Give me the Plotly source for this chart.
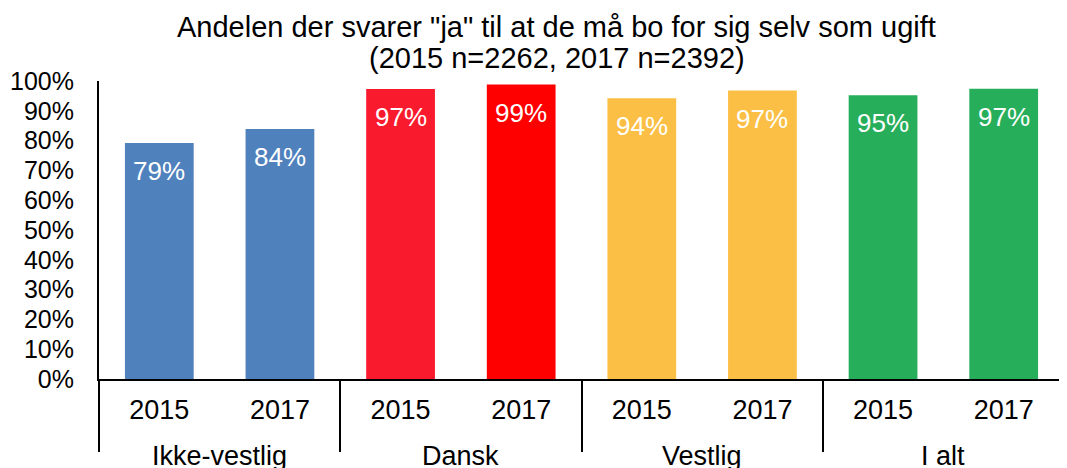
import plotly.graph_objects as go

# Data
grupper = ['Ikke-vestlig', 'Ikke-vestlig', 'Dansk', 'Dansk', 'Vestlig', 'Vestlig', 'I alt', 'I alt']
aar = ['2015', '2017', '2015', '2017', '2015', '2017', '2015', '2017']
andel = [0.792, 0.839, 0.973, 0.988, 0.942, 0.968, 0.952, 0.974]
etiketter = ['79%', '84%', '97%', '99%', '94%', '97%', '95%', '97%']
farver = ['#4F81BD', '#4F81BD', '#FA1A2E', '#FF0000', '#FBBF45', '#FBBF45', '#27AE5B', '#27AE5B']
titel_linjer = ['Andelen der svarer "ja" til at de må bo for sig selv som ugift',
                '(2015 n=2262, 2017 n=2392)']

font_navn = 'Liberation Sans, Arial, sans-serif'

unikke_grupper = list(dict.fromkeys(grupper))
# group level uses invisible keys (zero-width spaces) so the dividers stay,
# the visible group names are annotations placed lower down like in the original
skjult = ['\u200b' * (unikke_grupper.index(g) + 1) for g in grupper]

fig = go.Figure()
fig.add_trace(go.Bar(
    x=[skjult, aar],
    y=andel,
    marker=dict(color=farver, line=dict(width=0)),
    hoverinfo='skip',
))

# labels inside bar tops
for i, (v, t) in enumerate(zip(andel, etiketter)):
    fig.add_annotation(x=i, y=v, text=t, showarrow=False, yshift=-28,
                       font=dict(family=font_navn, size=26, color='white'))

# group names, centred under their bars
for g in unikke_grupper:
    idx = [i for i, gg in enumerate(grupper) if gg == g]
    fig.add_annotation(x=sum(idx) / len(idx), y=0, yref='paper', yanchor='middle',
                       text=g, showarrow=False, yshift=-77,
                       font=dict(family=font_navn, size=27, color='black'))

# two-line title as annotations (tighter line spacing than layout.title)
for linje, dy in zip(titel_linjer, [54, 23]):
    fig.add_annotation(x=0.4746, xref='paper', y=1, yref='paper', xanchor='center',
                       yanchor='middle', yshift=dy, text=linje, showarrow=False,
                       font=dict(family=font_navn, size=29, color='black'))

fig.update_layout(
    width=1059, height=460,
    margin=dict(t=73, b=89, l=91, r=3),
    paper_bgcolor='white',
    plot_bgcolor='white',
    showlegend=False,
    bargap=0.43,
    font=dict(family=font_navn, size=25, color='black'),
    xaxis=dict(
        type='multicategory',
        showline=True, linecolor='black', linewidth=2,
        showgrid=False,
        ticks='',
        ticklabelstandoff=6,
        showdividers=True, dividercolor='black', dividerwidth=2,
        tickfont=dict(size=27, color='black'),
        automargin=False,
    ),
    yaxis=dict(
        range=[0, 1],
        dtick=0.1,
        tickformat='.0%',
        showline=True, linecolor='black', linewidth=2,
        showgrid=False,
        zeroline=False,
        ticks='',
        ticklabelstandoff=18,
        tickfont=dict(size=25, color='black'),
        automargin=False,
    ),
)

fig.write_html("out.html")
